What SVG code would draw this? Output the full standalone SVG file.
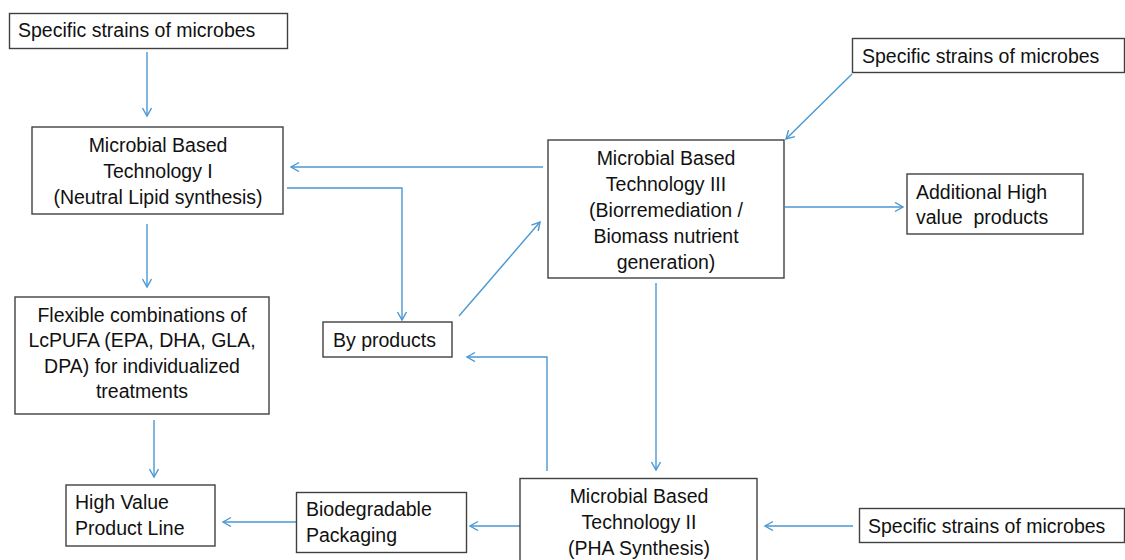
<svg xmlns="http://www.w3.org/2000/svg" width="1125" height="560" viewBox="0 0 1125 560">
<style>
.box{fill:#fff;stroke:#404040;stroke-width:1.4}
.t{font-family:"Liberation Sans",Arial,sans-serif;font-size:19.5px;fill:#111}
.c{text-anchor:middle}
.ln{fill:none;stroke:#4a98d3;stroke-width:1.4}
</style>
<defs>
<marker id="ah" markerUnits="userSpaceOnUse" markerWidth="12" markerHeight="12" refX="9" refY="5" orient="auto">
<path d="M1,0.5 L9,5 L1,9.5" fill="none" stroke="#4a98d3" stroke-width="1.4"/>
</marker>
</defs>
<rect width="1125" height="560" fill="#fff"/>
<g id="connectors">
<path class="ln" d="M147,52 V116" marker-end="url(#ah)"/>
<path class="ln" d="M543,167 H291" marker-end="url(#ah)"/>
<path class="ln" d="M287,188 H402 V320" marker-end="url(#ah)"/>
<path class="ln" d="M147,224 V287" marker-end="url(#ah)"/>
<path class="ln" d="M459,316 L540,222" marker-end="url(#ah)"/>
<path class="ln" d="M852,74 L786,139" marker-end="url(#ah)"/>
<path class="ln" d="M785,207 H903" marker-end="url(#ah)"/>
<path class="ln" d="M656,283 V470" marker-end="url(#ah)"/>
<path class="ln" d="M547,471 V357 H467" marker-end="url(#ah)"/>
<path class="ln" d="M520,526 H470" marker-end="url(#ah)"/>
<path class="ln" d="M853,526 H765" marker-end="url(#ah)"/>
<path class="ln" d="M297,522 H223" marker-end="url(#ah)"/>
<path class="ln" d="M154,420 V477" marker-end="url(#ah)"/>
</g>
<g id="strains1">
<rect class="box" x="9.5" y="13.5" width="278" height="35"/>
<text class="t" x="18" y="37">Specific strains of microbes</text>
</g>
<g id="mbt1">
<rect class="box" x="32" y="127" width="251" height="87"/>
<text class="t c" x="158" y="152">Microbial Based</text>
<text class="t c" x="158" y="178">Technology I</text>
<text class="t c" x="158" y="204">(Neutral Lipid synthesis)</text>
</g>
<g id="flexible">
<rect class="box" x="15" y="297" width="254" height="117"/>
<text class="t c" x="142" y="322">Flexible combinations of</text>
<text class="t c" x="142" y="347">LcPUFA (EPA, DHA, GLA,</text>
<text class="t c" x="142" y="373">DPA) for individualized</text>
<text class="t c" x="142" y="398">treatments</text>
</g>
<g id="highvalue">
<rect class="box" x="66" y="485" width="149" height="61"/>
<text class="t" x="75" y="509">High Value</text>
<text class="t" x="75" y="535">Product Line</text>
</g>
<g id="biodegradable">
<rect class="box" x="296.5" y="492.5" width="170" height="60"/>
<text class="t" x="306" y="516">Biodegradable</text>
<text class="t" x="306" y="542">Packaging</text>
</g>
<g id="byproducts">
<rect class="box" x="323" y="322" width="129" height="35"/>
<text class="t" x="333" y="347">By products</text>
</g>
<g id="mbt3">
<rect class="box" x="548" y="140" width="236" height="138"/>
<text class="t c" x="666" y="165">Microbial Based</text>
<text class="t c" x="666" y="191">Technology III</text>
<text class="t c" x="666" y="217">(Biorremediation /</text>
<text class="t c" x="666" y="243">Biomass nutrient</text>
<text class="t c" x="666" y="269">generation)</text>
</g>
<g id="strains2">
<rect class="box" x="852.5" y="38.5" width="272" height="34"/>
<text class="t" x="862" y="63">Specific strains of microbes</text>
</g>
<g id="additional">
<rect class="box" x="907" y="174" width="176" height="60"/>
<text class="t" x="916" y="199">Additional High</text>
<text class="t" x="916" y="224" xml:space="preserve">value  products</text>
</g>
<g id="mbt2">
<rect class="box" x="520" y="478.5" width="237" height="95"/>
<text class="t c" x="639" y="503">Microbial Based</text>
<text class="t c" x="639" y="529">Technology II</text>
<text class="t c" x="639" y="555">(PHA Synthesis)</text>
</g>
<g id="strains3">
<rect class="box" x="859.5" y="508.5" width="265" height="34"/>
<text class="t" x="868" y="533">Specific strains of microbes</text>
</g>
</svg>
